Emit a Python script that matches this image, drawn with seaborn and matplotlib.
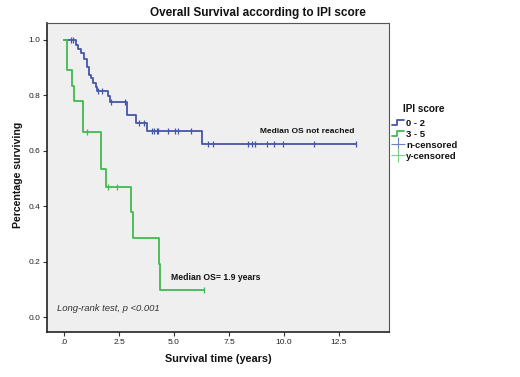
import numpy as np
import pandas as pd
import matplotlib
matplotlib.use("Agg")
import matplotlib.pyplot as plt
import seaborn as sns
from matplotlib.lines import Line2D
from matplotlib.legend_handler import HandlerBase

# ---------------- data ----------------
blue_t = [0.0, 0.53, 0.65, 0.77, 0.92, 1.06, 1.12, 1.23, 1.33, 1.44, 1.48, 2.0, 2.1, 2.88, 3.26, 3.79, 6.26, 13.26]
blue_s = [1.0, 0.98, 0.965, 0.95, 0.93, 0.90, 0.872, 0.86, 0.845, 0.83, 0.814, 0.795, 0.776, 0.728, 0.70, 0.672, 0.623, 0.623]
blue_cens_t = [0.32, 0.42, 1.56, 1.71, 2.14, 2.77, 3.42, 3.65, 3.98, 4.1, 4.21, 4.29, 4.71, 5.05, 5.2, 5.78,
               6.53, 6.79, 8.38, 8.53, 8.68, 9.24, 9.56, 9.97, 11.38, 13.26]
blue_cens_s = [1.0, 1.0, 0.814, 0.814, 0.776, 0.776, 0.70, 0.70, 0.672, 0.672, 0.672, 0.672, 0.672, 0.672, 0.672, 0.672,
               0.623, 0.623, 0.623, 0.623, 0.623, 0.623, 0.623, 0.623, 0.623, 0.623]

green_t = [0.0, 0.14, 0.35, 0.47, 0.88, 1.68, 1.9, 3.05, 3.12, 4.3, 4.36, 6.36]
green_s = [1.0, 0.889, 0.833, 0.778, 0.667, 0.533, 0.47, 0.378, 0.285, 0.19, 0.097, 0.097]
green_cens_t = [1.03, 2.0, 2.4, 6.36]
green_cens_s = [0.667, 0.47, 0.47, 0.097]

groups = ["0 - 2", "3 - 5"]
legend_labels = ["0 - 2", "3 - 5", "n-censored", "y-censored"]
x_ticks = [0, 2.5, 5.0, 7.5, 10.0, 12.5]
x_tick_labels = [".0", "2.5", "5.0", "7.5", "10.0", "12.5"]
y_ticks = [0.0, 0.2, 0.4, 0.6, 0.8, 1.0]
y_tick_labels = ["0.0", "0.2", "0.4", "0.6", "0.8", "1.0"]

BLUE = "#4656a6"
GREEN = "#3fbb50"
BLUE_C = "#7080c4"
GREEN_C = "#7ccf86"

sns.set_style("white")
plt.rcParams["font.family"] = ["Liberation Sans", "DejaVu Sans"]

fig = plt.figure(figsize=(5.2, 3.77), dpi=100)
ax = fig.add_axes([47/520, 1-332/377, 342/520, 309/377])
ax.set_facecolor("#efefef")

df = pd.concat([
    pd.DataFrame({"time": blue_t, "surv": blue_s, "group": groups[0]}),
    pd.DataFrame({"time": green_t, "surv": green_s, "group": groups[1]}),
])
sns.lineplot(data=df, x="time", y="surv", hue="group", palette={groups[0]: BLUE, groups[1]: GREEN},
             drawstyle="steps-post", estimator=None, sort=False, legend=False, linewidth=1.3, ax=ax)

sns.scatterplot(x=blue_cens_t, y=blue_cens_s, marker="|", s=22, color=BLUE, linewidth=0.9, ax=ax, zorder=5)
sns.scatterplot(x=green_cens_t, y=green_cens_s, marker="|", s=22, color=GREEN, linewidth=0.9, ax=ax, zorder=5)

ax.set_xlim(-0.773, 14.77)
ax.set_ylim(-0.054, 1.0595)
ax.set_xticks(x_ticks)
ax.set_xticklabels(x_tick_labels)
ax.set_yticks(y_ticks)
ax.set_yticklabels(y_tick_labels)
ax.tick_params(axis="both", labelsize=6, length=3, width=0.8, color="#333333", labelcolor="#222222", pad=2,
               left=True, bottom=True)
ax.set_xlabel("")
ax.set_ylabel("")

for side in ["left", "bottom"]:
    ax.spines[side].set_color("#222222")
    ax.spines[side].set_linewidth(1.2)
for side in ["top", "right"]:
    ax.spines[side].set_color("#555555")
    ax.spines[side].set_linewidth(0.8)

ax.text(13.2, 0.67, "Median OS not reached", ha="right", va="center", fontsize=6, fontweight="bold", color="#111111")
ax.text(4.86, 0.142, "Median OS= 1.9 years", ha="left", va="center", fontsize=6.2, fontweight="bold", color="#111111")
ax.text(-0.33, 0.029, "Long-rank test, p <0.001", ha="left", va="center", fontsize=6.8, style="italic", color="#333333")

fig.text(258/520, 1-13/377, "Overall Survival according to IPI score", ha="center", va="center", fontsize=8.5,
         fontweight="bold", color="#111111")
fig.text(18/520, 1-175/377, "Percentage surviving", ha="center", va="center", rotation=90, fontsize=7.6,
         fontweight="bold", color="#111111")
fig.text(218/520, 1-359/377, "Survival time (years)", ha="center", va="center", fontsize=7.8, fontweight="bold",
         color="#111111")
fig.text(403/520, 1-109/377, "IPI score", ha="left", va="center", fontsize=7.2, fontweight="bold", color="#111111")


class StepHandler(HandlerBase):
    def create_artists(self, legend, orig_handle, xdescent, ydescent, width, height, fontsize, trans):
        x0, y0 = -xdescent, -ydescent
        xs = [x0, x0 + width * 0.4, x0 + width * 0.4, x0 + width]
        ys = [y0 + height * 0.15, y0 + height * 0.15, y0 + height * 0.85, y0 + height * 0.85]
        ln = Line2D(xs, ys, color=orig_handle.get_color(), lw=orig_handle.get_linewidth())
        ln.set_transform(trans)
        return [ln]


h_blue = Line2D([], [], color=BLUE, lw=1.3)
h_green = Line2D([], [], color=GREEN, lw=1.3)
h_bc = Line2D([], [], color=BLUE_C, marker="+", markersize=10, markeredgewidth=0.8, linestyle="none")
h_gc = Line2D([], [], color=GREEN_C, marker="+", markersize=10, markeredgewidth=0.8, linestyle="none")

leg = fig.legend([h_blue, h_green, h_bc, h_gc], legend_labels,
                 handler_map={h_blue: StepHandler(), h_green: StepHandler()},
                 loc="upper left", bbox_to_anchor=(392/520, 1-119/377), frameon=False,
                 prop={"weight": "bold", "size": 6.8}, handlelength=1.3, handletextpad=0.2,
                 labelspacing=0.2, borderaxespad=0, borderpad=0)
for t in leg.get_texts():
    t.set_color("#111111")

fig.savefig("out.png", dpi=100)
